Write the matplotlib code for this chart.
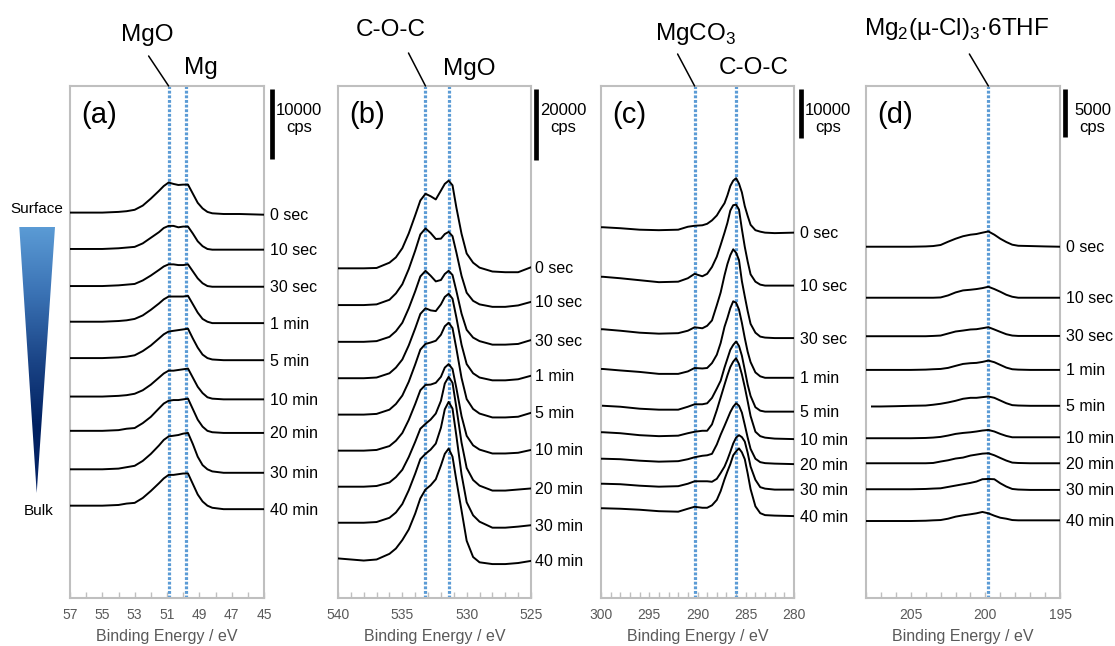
import numpy as np
import matplotlib.pyplot as plt
from matplotlib.colors import LinearSegmentedColormap
from matplotlib.patches import Polygon
from matplotlib.ticker import MultipleLocator
from matplotlib import transforms

plt.rcParams['font.family'] = ['Liberation Sans', 'DejaVu Sans']
plt.rcParams['mathtext.fontset'] = 'custom'
plt.rcParams['mathtext.rm'] = 'Liberation Sans'

times = ['0 sec', '10 sec', '30 sec', '1 min', '5 min', '10 min', '20 min', '30 min', '40 min']

# ---- (a) Mg 2p : binding energy (eV), stack offsets and intensities (kcps) ----
be_a = [57, 56, 55, 54, 53.5, 53, 52.5, 52, 51.5, 51.2, 50.9, 50.6, 50.3, 50.0,
        49.7, 49.4, 49.1, 48.8, 48.5, 48.2, 47.5, 46.5, 45]
ticks_a = [57, 55, 53, 51, 49, 47, 45]
offset_a = [55.1, 49.9, 44.6, 39.5, 34.3, 28.8, 23.9, 18.4, 13.2]
spec_a = [
    [0, 0, 0, 0.1, 0.2, 0.4, 1.0, 2.0, 3.1, 3.8, 4.3, 4.1, 3.95, 4.0, 4.0, 2.7, 1.4, 0.6, 0.1, -0.1, -0.2, -0.2, -0.3],
    [0, 0, 0, 0.1, 0.2, 0.3, 0.8, 1.6, 2.4, 3.0, 3.3, 3.3, 3.1, 3.2, 3.2, 2.2, 1.1, 0.4, 0, -0.1, -0.1, -0.1, -0.1],
    [0, 0, 0, 0.1, 0.2, 0.3, 0.8, 1.5, 2.3, 2.8, 3.1, 3.1, 3.0, 3.0, 3.1, 2.1, 1.1, 0.4, 0, -0.1, -0.1, -0.1, -0.1],
    [0, 0, 0, 0.1, 0.2, 0.4, 0.9, 1.7, 2.6, 3.2, 3.6, 3.6, 3.6, 3.6, 3.7, 2.5, 1.3, 0.4, 0, -0.2, -0.2, -0.2, -0.2],
    [0, 0, 0, 0.1, 0.2, 0.4, 1.0, 1.8, 2.8, 3.4, 3.8, 3.9, 4.0, 4.1, 4.2, 2.8, 1.5, 0.5, 0, -0.2, -0.3, -0.3, -0.3],
    [0, 0, 0, 0.1, 0.2, 0.4, 0.9, 1.7, 2.7, 3.3, 3.7, 3.7, 3.8, 3.9, 4.0, 2.7, 1.4, 0.5, -0.1, -0.3, -0.4, -0.4, -0.4],
    [0, 0, 0, 0.1, 0.3, 0.4, 1.1, 2.0, 3.2, 3.9, 4.3, 4.4, 4.4, 4.5, 4.6, 3.1, 1.6, 0.6, 0, -0.2, -0.3, -0.3, -0.3],
    [0, 0, 0, 0.1, 0.3, 0.5, 1.2, 2.2, 3.4, 4.2, 4.7, 4.8, 4.9, 5.1, 5.2, 3.6, 1.8, 0.6, 0, -0.3, -0.5, -0.5, -0.5],
    [0, 0, 0, 0.1, 0.3, 0.4, 1.1, 2.1, 3.2, 3.9, 4.4, 4.4, 4.5, 4.6, 4.6, 3.1, 1.6, 0.6, 0, -0.3, -0.5, -0.5, -0.5],
]

# ---- (b) O 1s ----
be_b = [540, 539, 538, 537, 536, 535.5, 535, 534.5, 534, 533.6, 533.2, 532.8, 532.4,
        532.0, 531.7, 531.4, 531.1, 530.8, 530.4, 530, 529.5, 529, 528, 527, 526, 525]
ticks_b = [540, 535, 530, 525]
offset_b = [93.3, 82.9, 72.5, 62.2, 51.9, 41.7, 31.5, 21.3, 11.2]
spec_b = [
    [0, 0, 0, 0.1, 1.6, 3.1, 5.7, 9.9, 15.0, 19.2, 21.1, 20.4, 19.5, 22.0, 23.9, 24.8, 23.5, 17.2, 9.8, 4.2, 1.6, 0.2, -0.9, -1.1, -1.1, 0.3],
    [0, 0, 0, 0.2, 1.5, 3.3, 5.9, 10.2, 15.4, 20.0, 21.7, 20.4, 18.7, 18.8, 20.1, 20.7, 19.5, 14.9, 8.3, 3.5, 1.2, 0.2, -0.5, -0.5, -0.1, 0.9],
    [0, 0, 0, 0.2, 1.4, 3.0, 5.4, 9.5, 14.3, 18.5, 20.1, 18.7, 17.1, 17.5, 19.2, 20.1, 18.9, 14.4, 8.0, 3.4, 1.2, 0.2, -0.8, -0.8, -0.6, 0.5],
    [0, 0, 0, 0.2, 1.4, 3.0, 5.3, 9.3, 14.1, 18.2, 19.8, 19.2, 19.0, 20.9, 23.0, 23.9, 22.5, 17.2, 9.5, 4.0, 1.4, 0.2, -0.6, -0.6, -0.3, 0.7],
    [0, 0, 0, 0.2, 1.4, 3.0, 5.4, 9.3, 14.2, 18.4, 20.0, 20.4, 20.9, 22.6, 25.0, 26.0, 24.5, 18.7, 10.4, 4.4, 1.6, 0.3, -0.8, -0.8, -0.6, 0.5],
    [0, 0, 0, 0.2, 1.3, 2.8, 5.0, 8.7, 13.2, 17.1, 18.6, 18.7, 19.2, 20.9, 23.5, 24.5, 23.1, 17.7, 9.8, 4.2, 1.5, 0.3, -0.8, -0.8, -0.6, 0.2],
    [0, 0, 0, 0.2, 1.2, 2.7, 4.8, 8.4, 12.7, 16.4, 17.8, 19.0, 20.7, 24.3, 29.2, 31.1, 29.4, 22.4, 12.5, 5.3, 1.9, 0.3, -1.1, -1.1, -0.8, -0.5],
    [0, 0, 0, 0.2, 1.4, 2.9, 5.3, 9.2, 13.9, 18.0, 19.5, 20.7, 22.4, 26.9, 32.1, 34.2, 32.3, 24.6, 13.7, 5.8, 2.1, 0.3, -1.4, -1.4, -1.1, -0.7],
    [0, -0.3, -0.6, -0.3, 1.3, 2.8, 5.2, 8.2, 12.7, 17.0, 19.5, 20.7, 22.4, 26.3, 29.6, 31.1, 28.8, 22.1, 13.6, 5.0, 0.4, -1.1, -1.6, -1.6, -1.3, -0.7],
]

# ---- (c) C 1s ----
be_c = [300, 299.8, 298, 296, 294, 292, 291, 290.3, 289.5, 289, 288.5, 288, 287.6, 287.2,
        286.9, 286.6, 286.3, 286.0, 285.7, 285.4, 285.1, 284.8, 284.5, 284, 283.5, 283, 282, 280]
ticks_c = [300, 295, 290, 285, 280]
offset_c = [75.6, 65.5, 54.8, 46.7, 39.2, 33.8, 28.4, 23.3, 18.3]
nan = np.nan
spec_c = [
    [0, 0, -0.2, -0.5, -0.6, -0.5, 0.1, 0.3, 0.4, 0.7, 1.4, 2.4, 3.7, 4.9, 6.5, 8.4, 9.5, 10.0, 8.9, 7.1, 4.3, 2.3, 0.5, -0.6, -0.9, -1.1, -1.2, -1.1],
    [0, 0, -0.3, -0.7, -1.1, -1.0, -0.3, 0.6, 0.1, 0.6, 2.0, 4.1, 6.5, 9.0, 11.0, 13.5, 14.6, 14.7, 13.7, 9.7, 6.1, 3.1, 0.5, -1.0, -1.6, -1.8, -1.8, -1.8],
    [0, 0, -0.3, -0.7, -0.9, -0.8, -0.3, 0.4, 0.2, 0.7, 1.8, 4.9, 7.5, 11.0, 13.3, 15.1, 16.3, 15.6, 14.1, 9.8, 6.7, 3.7, 1.1, -0.7, -1.5, -1.7, -1.8, -1.8],
    [0, 0, -0.3, -0.6, -1.0, -1.0, -0.5, 0.2, 0.1, 0.2, 1.2, 2.9, 5.3, 8.6, 10.4, 12.4, 13.8, 13.5, 12.1, 9.4, 6.3, 3.5, 1.4, -0.7, -1.5, -1.8, -1.8, -1.8],
    [nan, 0, -0.2, -0.6, -0.8, -0.8, -0.2, 0.3, 0.3, 0.5, 1.6, 3.5, 5.1, 7.8, 9.6, 11.4, 12.4, 13.1, 12.2, 10.2, 7.3, 4.3, 2.0, -0.3, -1.0, -1.2, -1.2, -1.2],
    [0, 0, -0.2, -0.6, -0.8, -0.7, -0.2, 0.1, 0.3, 0.3, 1.6, 4.5, 7.1, 9.7, 11.6, 13.3, 14.4, 15.1, 13.9, 11.8, 9.2, 6.3, 3.3, 0.1, -0.8, -1.1, -1.3, -1.4],
    [0, 0, -0.1, -0.4, -0.6, -0.5, -0.1, 0.3, 0.6, 0.7, 1.0, 2.9, 4.9, 6.7, 8.1, 9.5, 10.6, 11.3, 10.8, 9.4, 6.9, 4.3, 2.0, 0, -0.7, -0.9, -1.0, -1.1],
    [0, 0, -0.1, -0.4, -0.6, -0.5, 0, 0.5, 0.5, 0.5, 0.4, 1.0, 2.2, 3.5, 4.9, 6.5, 8.2, 9.4, 9.9, 9.5, 8.6, 6.3, 3.5, 0.8, -0.7, -1.0, -1.2, -1.2],
    [0, 0, -0.1, -0.3, -0.6, -0.7, -0.1, 0.3, 0.1, 0.1, 0.6, 1.7, 3.5, 5.9, 7.5, 9.0, 10.8, 11.6, 12.2, 11.4, 10.0, 7.1, 3.9, 0.4, -1.0, -1.4, -1.5, -1.6],
]

# ---- (d) Cl 2p ----
be_d = [208, 207.6, 207, 206, 205, 204, 203.5, 203, 202.5, 202, 201.5, 201, 200.6, 200.2,
        199.8, 199.4, 199, 198.6, 198.2, 197.8, 197, 196, 195]
ticks_d = [205, 200, 195]
offset_d = [36.5, 31.2, 27.2, 23.7, 19.9, 16.6, 14.0, 11.3, 8.0]
spec_d = [
    [0, 0, 0, 0, 0, 0.03, 0.07, 0.18, 0.52, 0.83, 1.09, 1.25, 1.32, 1.46, 1.59, 1.25, 0.83, 0.49, 0.21, 0.1, 0.07, 0.03, 0],
    [0, 0, 0, 0, 0, 0, 0, 0.03, 0.24, 0.55, 0.76, 0.83, 0.9, 1.0, 1.14, 0.9, 0.62, 0.31, 0.1, 0, 0, 0, 0],
    [0, 0, 0, 0, 0, 0, 0.03, 0.07, 0.28, 0.49, 0.59, 0.7, 0.73, 0.83, 0.94, 0.7, 0.45, 0.21, 0.07, 0.03, 0.03, 0.03, 0.03],
    [0, 0, 0, 0, 0, 0.03, 0.07, 0.1, 0.21, 0.42, 0.62, 0.7, 0.73, 0.83, 0.97, 0.8, 0.52, 0.24, 0.07, 0.03, 0, 0, 0],
    [nan, 0, 0, 0.03, 0.07, 0.1, 0.18, 0.28, 0.42, 0.59, 0.8, 0.9, 0.9, 0.97, 1.04, 0.9, 0.62, 0.34, 0.14, 0.1, 0.07, 0.07, 0.07],
    [0, 0, 0, 0, 0, 0.03, 0.07, 0.14, 0.28, 0.45, 0.55, 0.62, 0.7, 0.8, 0.86, 0.7, 0.45, 0.24, 0.1, 0.1, 0.1, 0.1, 0.1],
    [0, 0, 0, 0, 0, 0, 0.03, 0.18, 0.31, 0.49, 0.59, 0.8, 0.9, 1.0, 1.04, 0.83, 0.55, 0.28, 0.07, 0.03, 0, 0, 0],
    [0, 0, 0, 0, 0, 0.03, 0.07, 0.1, 0.24, 0.38, 0.52, 0.66, 0.8, 1.04, 1.07, 1.04, 0.62, 0.28, 0.03, -0.03, -0.07, -0.07, -0.07],
    [0, 0, 0, 0, 0, 0.03, 0.07, 0.1, 0.24, 0.45, 0.59, 0.7, 0.8, 0.94, 0.8, 0.55, 0.34, 0.24, 0.1, 0.07, 0.07, 0.07, 0.07],
]

# peak positions (eV) marked with dotted lines
lines_a = [50.9, 49.8]
lines_b = [533.2, 531.4]
lines_c = [290.3, 286.0]
lines_d = [199.8]

fig = plt.figure(figsize=(11.15, 6.46), dpi=100)

GREY = '#BFBFBF'
TXT_GREY = '#595959'
BLUE = '#5B9BD5'


def panel(rect, be, offsets, spectra, xlim, ticks, ytop, lines, letter,
          scale, bar_x, lab_dx):
    ax = fig.add_axes(rect)
    for off, sp, name in zip(offsets, spectra, times):
        y = off + np.array(sp, dtype=float)
        ax.plot(be, y, color='black', lw=1.4, solid_joinstyle='round', zorder=3)
        ax.annotate(name, xy=(1, y[-1]), xycoords=('axes fraction', 'data'),
                    xytext=(lab_dx, -1), textcoords='offset pixels',
                    ha='left', va='center', fontsize=11.5, annotation_clip=False)
    for e in lines:
        ax.axvline(e, color=BLUE, lw=2.3, ls=(0, (0.9, 0.55)), zorder=2)
    ax.set_xlim(*xlim)
    ax.set_ylim(0, ytop)
    ax.set_xticks(ticks)
    ax.xaxis.set_minor_locator(MultipleLocator(1))
    ax.set_yticks([])
    ax.tick_params(axis='x', which='both', direction='in', length=4, width=1,
                   color=GREY, labelcolor=TXT_GREY, labelsize=10, pad=7)
    for s in ax.spines.values():
        s.set_color(GREY)
        s.set_linewidth(1.5)
    ax.set_xlabel('Binding Energy / eV', fontsize=11.5, color=TXT_GREY, labelpad=5)
    ax.text(0.057, 0.943, letter, transform=ax.transAxes, fontsize=21,
            ha='left', va='center')

    # intensity scale bar
    trans = transforms.blended_transform_factory(ax.transAxes, ax.transData)
    top = ytop * 0.994
    ax.plot([bar_x, bar_x], [top, top - scale], transform=trans, color='black',
            lw=3.4, solid_capstyle='butt', clip_on=False)
    ax.annotate(f'{int(scale * 1000)}\ncps', xy=(bar_x, top), xycoords=trans,
                xytext=(27, -30), textcoords='offset pixels', ha='center',
                va='center', fontsize=12, linespacing=1.15, annotation_clip=False)
    return ax


def tag(ax, energy, text, dx, dy, leader=None):
    ax.annotate(text, xy=(energy, 1), xycoords=('data', 'axes fraction'),
                xytext=(dx, dy), textcoords='offset pixels', ha='center',
                va='baseline', fontsize=17.5, annotation_clip=False)
    if leader is not None:
        ax.annotate('', xy=(energy, 1), xycoords=('data', 'axes fraction'),
                    xytext=leader, textcoords='offset pixels',
                    arrowprops=dict(arrowstyle='-', color='black', lw=1.1,
                                    shrinkA=0, shrinkB=0),
                    annotation_clip=False)


bottom = 1 - 598 / 646
height = 512 / 646

ax_a = panel([70 / 1115, bottom, 194 / 1115, height], be_a, offset_a, spec_a,
             (57, 45), ticks_a, 73.2, lines_a, '(a)', 10, 1.040, 6)
ax_b = panel([338 / 1115, bottom, 193 / 1115, height], be_b, offset_b, spec_b,
             (540, 525), ticks_b, 144.9, lines_b, '(b)', 20, 1.025, 4)
ax_c = panel([601 / 1115, bottom, 193 / 1115, height], be_c, offset_c, spec_c,
             (300, 280), ticks_c, 104.4, lines_c, '(c)', 10, 1.035, 6)
ax_d = panel([866 / 1115, bottom, 194 / 1115, height], be_d, offset_d, spec_d,
             (208, 195), ticks_d, 53.2, lines_d, '(d)', 5, 1.028, 6)

tag(ax_a, lines_a[0], 'MgO', -21, 45, leader=(-20, 30))
tag(ax_a, lines_a[1], 'Mg', 14, 12)
tag(ax_b, lines_b[0], 'C-O-C', -35, 50, leader=(-17, 33))
tag(ax_b, lines_b[1], 'MgO', 21, 11)
tag(ax_c, lines_c[0], r'MgCO$_\mathregular{3}$', 1, 46, leader=(-17, 32))
tag(ax_c, lines_c[1], 'C-O-C', 18, 12)
tag(ax_d, lines_d[0], r'Mg$_\mathregular{2}$(µ-Cl)$_\mathregular{3}$·6THF', -32, 51,
    leader=(-19, 32))

# depth wedge on the left: surface (light) to bulk (dark)
ov = fig.add_axes([0, 0, 1, 1], zorder=-1)
ov.set_xlim(0, 1115)
ov.set_ylim(646, 0)
ov.axis('off')
cmap = LinearSegmentedColormap.from_list(
    'depth', ['#5B9BD5', '#3A72B4', '#1B4587', '#002060', '#082668'])
grad = np.linspace(0, 1, 256).reshape(-1, 1)
wedge = Polygon([(19.3, 227), (55, 227), (36.7, 493)], closed=True,
                facecolor='none', edgecolor='none', transform=ov.transData)
ov.add_patch(wedge)
im = ov.imshow(grad, extent=(19.3, 55, 493, 227), cmap=cmap, aspect='auto',
               origin='upper')
im.set_clip_path(wedge)
ov.text(36.7, 209, 'Surface', ha='center', va='center', fontsize=11)
ov.text(38.3, 511, 'Bulk', ha='center', va='center', fontsize=11)

fig.savefig('out.png', dpi=100)
